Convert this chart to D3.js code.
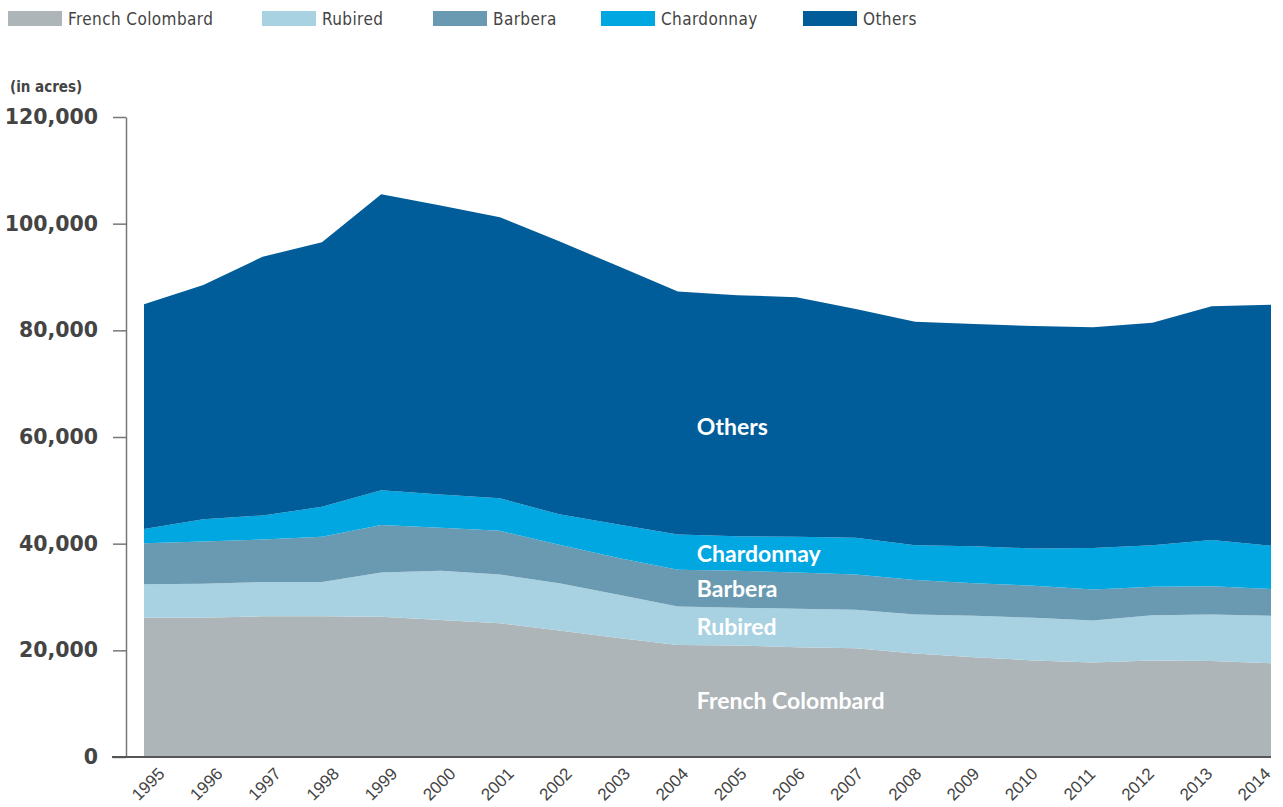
<!DOCTYPE html>
<html>
<head>
<meta charset="utf-8">
<script src="https://cdn.jsdelivr.net/npm/d3@7"></script>
<style>
  body { margin: 0; background: #fff; }
  svg { display: block; }
</style>
</head>
<body>
<svg id="chart" width="1283" height="807"></svg>
<script>
(function(){

const WIDTH = 1283, HEIGHT = 807;

// ---- data (acres) ----
const years = [1995,1996,1997,1998,1999,2000,2001,2002,2003,2004,
               2005,2006,2007,2008,2009,2010,2011,2012,2013,2014];
const frenchColombard = [26100,26100,26400,26400,26300,25700,25100,23700,22300,21000,
                         20900,20600,20400,19400,18700,18100,17700,18100,18000,17600];
const rubired    = [6300,6400,6400,6400,8300,9200,9100,8900,8100,7200,
                    7100,7200,7200,7300,7800,8000,7900,8500,8700,8900];
const barbera    = [7700,7900,8000,8500,8900,8100,8200,7200,6900,6900,
                    6900,6800,6600,6500,6100,6000,5800,5300,5300,5000];
const chardonnay = [2650,4200,4500,5600,6500,6200,6100,5700,6300,6600,
                    6500,6700,6900,6500,6900,7000,7800,7800,8700,8100];
const others     = [42150,43900,48500,49600,55500,54200,52700,51200,48400,45600,
                    45200,44900,42900,41900,41700,41700,41400,41700,43800,45200];

const seriesNames  = ['French Colombard','Rubired','Barbera','Chardonnay','Others'];
const seriesColors = ['#aeb5b8','#a8d2e2','#6a9ab2','#00a7e1','#005d99'];
const yTicks = [0,20000,40000,60000,80000,100000,120000];

const rows = years.map((y,i) => ({
  year: y,
  'French Colombard': frenchColombard[i],
  'Rubired': rubired[i],
  'Barbera': barbera[i],
  'Chardonnay': chardonnay[i],
  'Others': others[i]
}));

const svg = d3.select('#chart');

const x = d3.scaleLinear().domain([1995, 2014]).range([144, 1271]);
const y = d3.scaleLinear().domain([0, 120000]).range([757, 117]);
// tick labels sit on a slightly tighter spacing than the data points
const xLab = d3.scaleLinear().domain([1995, 2014]).range([148, 1254]);

const stacked = d3.stack().keys(seriesNames)(rows);

const area = d3.area()
  .x(d => x(d.data.year))
  .y0(d => y(d[0]))
  .y1(d => y(d[1]));

svg.append('g')
  .selectAll('path.layer')
  .data(stacked)
  .join('path')
  .attr('class','layer')
  .attr('d', area)
  .attr('fill', (d,i) => seriesColors[i]);

// ---- y axis ----
const yAxis = svg.append('g')
  .attr('transform','translate(126,0)')
  .call(d3.axisLeft(y).tickValues(yTicks).tickFormat(d3.format(',')).tickSize(13).tickSizeOuter(0).tickPadding(15));
yAxis.select('.domain').attr('stroke','#777').attr('stroke-width',1.5);
yAxis.selectAll('.tick line').attr('stroke','#777').attr('stroke-width',1.5);
yAxis.selectAll('.tick text')
  .attr('fill','#444')
  .style('font-family','"DejaVu Sans", sans-serif')
  .style('font-weight','bold')
  .style('font-size','20.5px');

svg.append('text')
  .attr('x', 10).attr('y', 92)
  .attr('fill','#444')
  .style('font-family','"DejaVu Sans Condensed", "DejaVu Sans", sans-serif')
  .style('font-weight','bold')
  .style('font-size','15px')
  .text('(in acres)');

// ---- x axis ----
svg.append('line')
  .attr('x1', 112).attr('x2', x(2014))
  .attr('y1', y(0)).attr('y2', y(0))
  .attr('stroke','#555').attr('stroke-width',2);

svg.append('g')
  .selectAll('text.xlab')
  .data(years)
  .join('text')
  .attr('class','xlab')
  .attr('transform', d => `translate(${xLab(d)},${y(0)+27}) rotate(-45)`)
  .attr('text-anchor','middle')
  .attr('dy','0.35em')
  .attr('fill','#444')
  .style('font-family','"Liberation Sans", Arial, sans-serif')
  .style('font-size','17px')
  .text(d => d);

// ---- legend ----
const legendX = [8, 262, 433, 601, 803];
const legend = svg.append('g')
  .selectAll('g.leg')
  .data(seriesNames)
  .join('g')
  .attr('class','leg')
  .attr('transform', (d,i) => `translate(${legendX[i]},11)`);
legend.append('rect')
  .attr('width', 54).attr('height', 15)
  .attr('fill', (d,i) => seriesColors[i]);
legend.append('text')
  .attr('x', 60).attr('y', 13.5)
  .attr('fill','#444')
  .style('font-family','"DejaVu Sans Condensed", "DejaVu Sans", sans-serif')
  .style('font-size','17px')
  .style('letter-spacing','0.4px')
  .text(d => d);

// ---- in-chart labels (middle of each band at 2005) ----
const labelYear = 2005;
const li = years.indexOf(labelYear);
svg.append('g')
  .selectAll('text.band')
  .data(stacked)
  .join('text')
  .attr('class','band')
  .attr('x', x(2004) + 19)
  .attr('y', d => {
    const mid = (d[li][0] + d[li][1]) / 2;
    return y(d.key === 'Others' ? mid - 2200 : mid);
  })
  .attr('dy','0.35em')
  .attr('fill','#fff')
  .style('font-family','Lato, sans-serif')
  .style('font-weight','bold')
  .style('font-size','23px')
  .text(d => d.key);

})();
</script>
</body>
</html>
